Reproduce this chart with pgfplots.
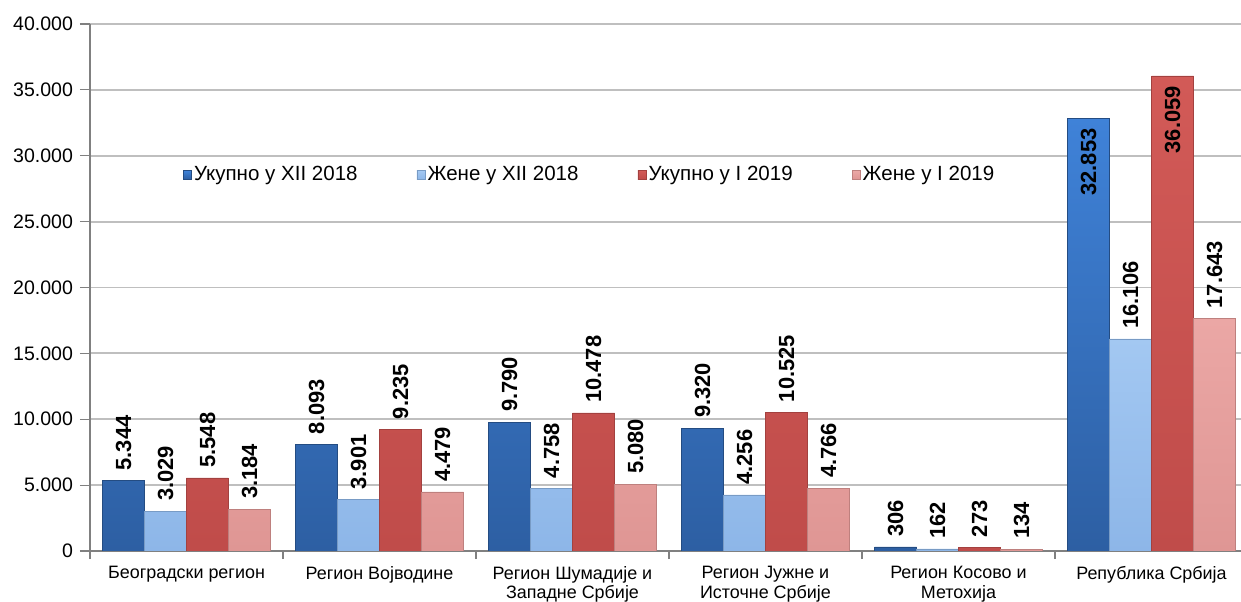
\documentclass[border=0pt]{standalone}
\usepackage{pgfplots}
\pgfplotsset{compat=1.18}
\usepackage{pgfplotstable}
\usepackage{fontspec}
\setmainfont{Liberation Sans}

\definecolor{blueT}{HTML}{3F82D8}
\definecolor{blueB}{HTML}{2D5FA3}
\definecolor{lblueT}{HTML}{A3C8F2}
\definecolor{lblueB}{HTML}{8DB6E8}
\definecolor{redT}{HTML}{D25A57}
\definecolor{redB}{HTML}{C04C4A}
\definecolor{pinkT}{HTML}{EBA7A5}
\definecolor{pinkB}{HTML}{DF9694}
\definecolor{gridgray}{HTML}{BFBFBF}

\pgfplotstableread{
x y
0 5344
1 8093
2 9790
3 9320
4 306
5 32853
}\ukXII
\pgfplotstableread{
x y
0 3029
1 3901
2 4758
3 4256
4 162
5 16106
}\zeXII
\pgfplotstableread{
x y
0 5548
1 9235
2 10478
3 10525
4 273
5 36059
}\ukI
\pgfplotstableread{
x y
0 3184
1 4479
2 5080
3 4766
4 134
5 17643
}\zeI

% label of the last (tallest) bar goes inside the bar
\tikzset{ancsel/.code={\ifnum#1=5 \tikzset{anchor=east}\else\tikzset{anchor=west}\fi}}
\pgfplotsset{inside last/.style={visualization depends on={value \coordindex \as \ci},
  every node near coord/.append style={ancsel=\ci}}}

\begin{document}
\begin{tikzpicture}[x=1bp,y=1bp]
\begin{axis}[
  at={(0,0)}, anchor=south west,
  scale only axis,
  width=579bp, height=263.5bp,
  ybar=0pt, bar width=21bp,
  xmin=-0.5, xmax=5.5,
  ymin=0, ymax=40000,
  ytick={0,5000,...,40000},
  xtick={0,...,5},
  xticklabels={Београдски регион, Регион Војводине, {Регион Шумадије и\\Западне Србије}, {Регион Јужне и\\Источне Србије}, {Регион Косово и\\Метохија}, Република Србија},
  minor xtick={-0.5,0.5,...,5.5},
  major x tick style={draw=none},
  minor x tick style={draw=gray, line width=0.6pt},
  minor tick length=4bp,
  major tick length=5bp,
  tick align=outside,
  axis x line*=bottom, axis y line*=left,
  axis line style={draw=gray, line width=0.6pt, -},
  ytick style={draw=gray, line width=0.6pt},
  ymajorgrids, grid style={draw=gridgray, line width=1pt},
  y tick label style={font=\fontsize{9.8}{11}\selectfont},
  x tick label style={font=\fontsize{9}{10}\selectfont, align=center, yshift=1bp},
  /pgf/number format/.cd, fixed, precision=0, 1000 sep={.}, assume math mode=true,
  /pgfplots/.cd,
  scaled y ticks=false,
  nodes near coords,
  every node near coord/.append style={rotate=90, anchor=west, inner xsep=5bp,
    font=\fontsize{11}{12}\bfseries, text=black},
  legend columns=4,
  legend style={draw=none, fill=none, at={(0.08,0.7135)}, anchor=west,
    font=\fontsize{10.3}{12}\selectfont, inner sep=0pt,
    nodes={inner xsep=1bp},
    /tikz/every even column/.append style={column sep=28.5bp}},
  legend image code/.code={\fill[#1] (0bp,-2.1bp) rectangle (4.2bp,2.1bp);},
]
\addplot[inside last, draw=blueB!80!black, line width=0.3pt, top color=blueT, bottom color=blueB] table[x=x,y=y] {\ukXII};
\addplot[draw=lblueB!85!black, line width=0.3pt, top color=lblueT, bottom color=lblueB] table[x=x,y=y] {\zeXII};
\addplot[inside last, draw=redB!85!black, line width=0.3pt, top color=redT, bottom color=redB] table[x=x,y=y] {\ukI};
\addplot[draw=pinkB!85!black, line width=0.3pt, top color=pinkT, bottom color=pinkB] table[x=x,y=y] {\zeI};
\legend{Укупно у XII 2018, Жене у XII 2018, Укупно у I 2019, Жене у I 2019}
\end{axis}
\pgfresetboundingbox
\useasboundingbox (-45bp,-25.5bp) rectangle (575.5bp,275.5bp);
\end{tikzpicture}
\end{document}
